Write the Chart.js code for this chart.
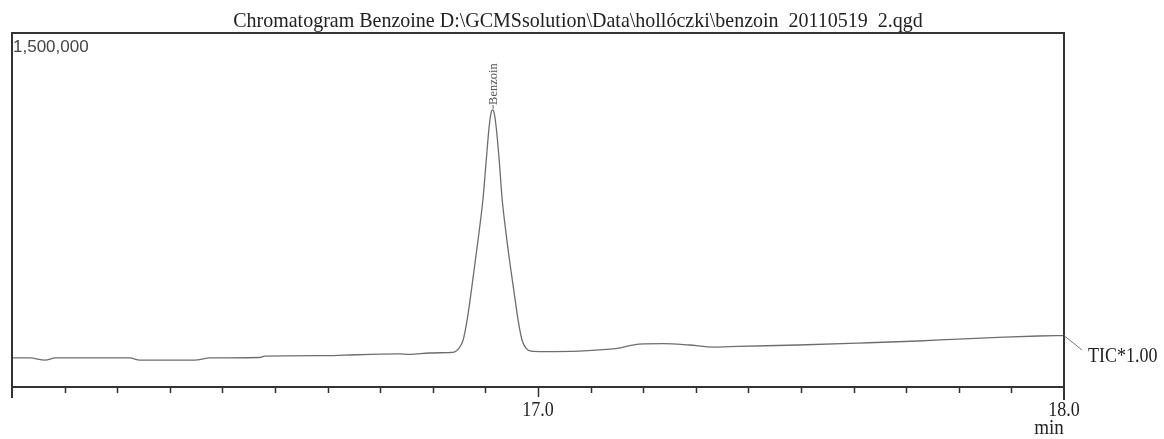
<!DOCTYPE html>
<html>
<head>
<meta charset="utf-8">
<title>Chromatogram Benzoine</title>
<script src="https://cdn.jsdelivr.net/npm/chart.js@4.4.1/dist/chart.umd.min.js"></script>
<style>
    html, body { margin: 0; padding: 0; background: #fff; }
    #chromChart { display: block; }
</style>
</head>
<body>
<canvas id="chromChart" width="1164" height="439"></canvas>
<script>
// retention time (min) and TIC intensity
const retentionTimes = [
    16.000, 16.034, 16.063, 16.082, 16.167, 16.224, 16.243, 16.347, 16.376, 16.471,
    16.480, 16.603, 16.632, 16.736, 16.755, 16.793, 16.831,
    16.8406, 16.8501, 16.8577, 16.8653, 16.8729, 16.8805, 16.8880, 16.8956, 16.9013,
    16.9070, 16.9108, 16.9137, 16.9165, 16.9203, 16.9260, 16.9317, 16.9393, 16.9469,
    16.9545, 16.9621, 16.9696, 16.9772, 16.9867,
    17.011, 17.078, 17.116, 17.154, 17.192, 17.239, 17.287, 17.334, 17.381, 17.495,
    17.609, 17.723, 17.799, 17.875, 17.951, 18.000
];
const ticIntensity = [
    123000, 123000, 114000, 123000, 123000, 123000, 114000, 114000, 123000, 125000,
    131000, 133000, 135000, 140000, 138000, 144000, 146000,
    148000, 165000, 199000, 284000, 402000, 530000, 657000, 801000, 953000,
    1100000, 1162000, 1174000, 1163000, 1105000, 968000, 800000, 650000, 520000,
    402000, 284000, 199000, 165000, 152000,
    150000, 152000, 157000, 165000, 182000, 184000, 178000, 169000, 172000, 178000,
    186000, 195000, 203000, 210000, 216000, 218000
];

const minorTicks = [16.1, 16.2, 16.3, 16.4, 16.5, 16.6, 16.7, 16.8, 16.9,
                    17.1, 17.2, 17.3, 17.4, 17.5, 17.6, 17.7, 17.8, 17.9];
const majorTicks = [17.0, 18.0];
const majorTickLabels = ['17.0', '18.0'];

const yMax = 1500000;
const yMaxLabel = '1,500,000';
const peakName = 'Benzoin';
const peakTime = 16.9137;
const peakHeight = 1174000;
const traceLabel = 'TIC*1.00';
const chartTitle = 'Chromatogram Benzoine D:\\GCMSsolution\\Data\\hollóczki\\benzoin  20110519  2.qgd';

const points = retentionTimes.map((t, i) => ({ x: t, y: ticIntensity[i] }));

const serif = '"Liberation Serif", "DejaVu Serif", serif';

// text slightly stretched vertically, like the printed report
function tallText(ctx, text, x, y, size, stretch, align) {
    ctx.save();
    ctx.font = size + 'px ' + serif;
    ctx.textAlign = align;
    ctx.textBaseline = 'alphabetic';
    ctx.translate(x, y);
    ctx.scale(1, stretch);
    ctx.fillText(text, 0, 0);
    ctx.restore();
}

// frame, ticks and annotations drawn in the GCMS printout style
const gcmsFrame = {
    id: 'gcmsFrame',
    afterDraw(chart) {
        const ctx = chart.ctx;
        const xs = chart.scales.x;
        const ys = chart.scales.y;
        const left = xs.getPixelForValue(16.0);
        const right = xs.getPixelForValue(18.0);
        const top = ys.getPixelForValue(yMax);
        const bottom = ys.getPixelForValue(0);

        ctx.save();
        ctx.strokeStyle = '#333';
        ctx.lineWidth = 2;
        ctx.beginPath();
        ctx.moveTo(left, bottom + 11);
        ctx.lineTo(left, top);
        ctx.lineTo(right, top);
        ctx.lineTo(right, bottom + 13);
        ctx.moveTo(left, bottom);
        ctx.lineTo(right, bottom);
        ctx.stroke();

        ctx.lineWidth = 1.5;
        ctx.beginPath();
        minorTicks.forEach(t => {
            const px = Math.round(xs.getPixelForValue(t)) + 0.5;
            ctx.moveTo(px, bottom);
            ctx.lineTo(px, bottom + 6);
        });
        const px17 = Math.round(xs.getPixelForValue(17.0)) + 0.5;
        ctx.moveTo(px17, bottom);
        ctx.lineTo(px17, bottom + 10);
        ctx.stroke();

        ctx.fillStyle = '#222';
        majorTicks.forEach((t, i) => {
            tallText(ctx, majorTickLabels[i], xs.getPixelForValue(t), bottom + 29, 18, 1.2, 'center');
        });
        tallText(ctx, 'min', right - 15, bottom + 47, 19, 1.1, 'center');
        tallText(ctx, chartTitle, 578, top - 6, 20, 1.1, 'center');
        tallText(ctx, traceLabel, right + 24, bottom - 25, 18, 1.2, 'left');

        ctx.strokeStyle = '#777';
        ctx.lineWidth = 1;
        ctx.beginPath();
        ctx.moveTo(right, ys.getPixelForValue(ticIntensity[ticIntensity.length - 1]));
        ctx.lineTo(right + 18, bottom - 37);
        ctx.stroke();

        ctx.fillStyle = '#444';
        ctx.font = '17px "Liberation Sans", Arial, sans-serif';
        ctx.textAlign = 'left';
        ctx.fillText(yMaxLabel, left + 1, top + 19);

        // peak label, rotated
        const pk = xs.getPixelForValue(peakTime);
        const pkTop = ys.getPixelForValue(peakHeight);
        ctx.strokeStyle = '#666';
        ctx.beginPath();
        ctx.moveTo(pk + 0.5, pkTop - 1);
        ctx.lineTo(pk + 0.5, pkTop - 5);
        ctx.stroke();
        ctx.translate(pk + 4, pkTop - 5);
        ctx.rotate(-Math.PI / 2);
        ctx.fillStyle = '#555';
        ctx.font = '12.5px ' + serif;
        ctx.textAlign = 'left';
        ctx.fillText(peakName, 0, 0);
        ctx.restore();
    }
};

new Chart(document.getElementById('chromChart').getContext('2d'), {
    type: 'line',
    data: {
        datasets: [{
            label: traceLabel,
            data: points,
            borderColor: '#6e6e6e',
            borderWidth: 1.3,
            pointRadius: 0,
            fill: false,
            cubicInterpolationMode: 'monotone'
        }]
    },
    options: {
        responsive: false,
        animation: false,
        layout: { padding: { left: 12, top: 33, right: 100, bottom: 52 } },
        plugins: { legend: { display: false }, tooltip: { enabled: false } },
        scales: {
            x: { type: 'linear', min: 16.0, max: 18.0, display: false },
            y: { min: 0, max: yMax, display: false }
        }
    },
    plugins: [gcmsFrame]
});
</script>
</body>
</html>
